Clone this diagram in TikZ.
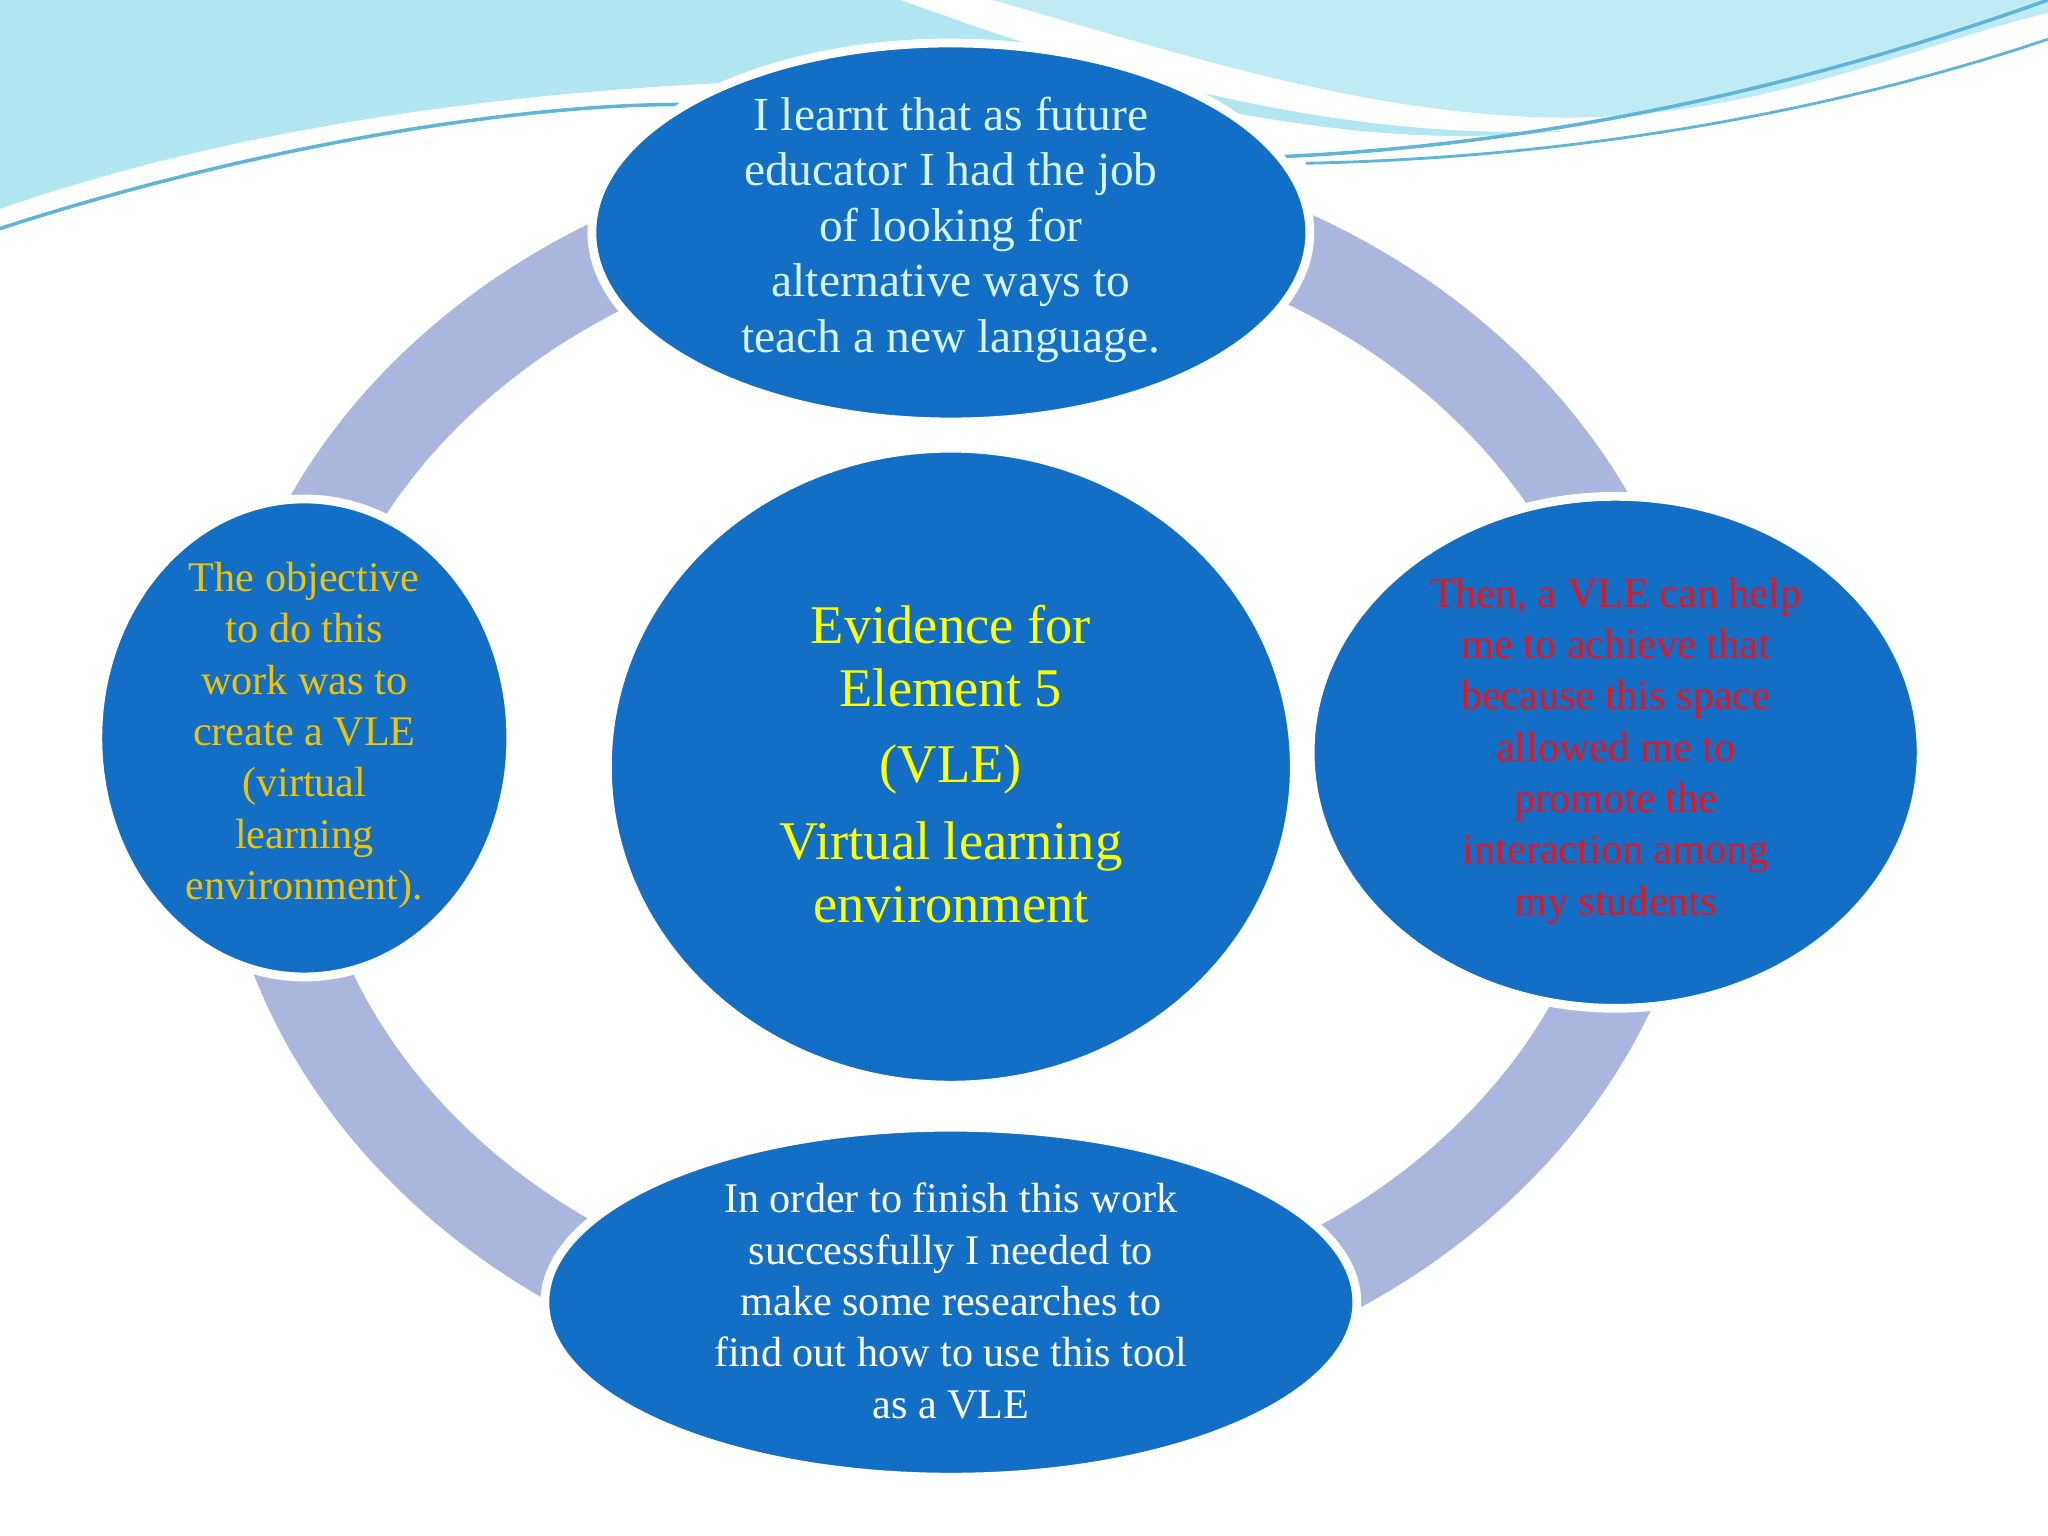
\documentclass[tikz,border=0pt]{standalone}
\usepackage{fontspec}
\setmainfont{Liberation Serif}
\definecolor{blob}{HTML}{136FC6}
\definecolor{ring}{HTML}{AAB6DE}
\definecolor{wave}{HTML}{7FD6E8}
\definecolor{wavedark}{HTML}{5FB4D8}
\definecolor{ytext}{HTML}{FFFF00}
\definecolor{otext}{HTML}{F2C200}
\definecolor{rtext}{HTML}{E8141E}
\tikzset{
  blobst/.style={ellipse, fill=blob, draw=white, line width=2.5pt, inner sep=0pt},
  txt/.style={align=center, font=\fontsize{12}{14.6}\selectfont},
}
\usetikzlibrary{shapes.geometric}
\begin{document}
\begin{tikzpicture}[x=0.013061cm,y=-0.013061cm]
\useasboundingbox (0,0) rectangle (1568,1176);
\fill[white] (0,0) rectangle (1568,1176);
% top waves
\fill[wave!60] (0,0) -- (0,160) .. controls (200,90) and (450,60) .. (700,60) .. controls (900,60) and (1000,120) .. (1200,100) .. controls (1350,85) and (1500,40) .. (1568,20) -- (1568,0) -- cycle;
\fill[white] (690,0) .. controls (800,40) and (1000,110) .. (1200,100) .. controls (1350,90) and (1480,50) .. (1568,30) -- (1568,0) -- cycle;
\fill[wave!50] (760,0) .. controls (900,40) and (1050,90) .. (1200,90) .. controls (1350,90) and (1480,30) .. (1568,10) -- (1568,0) -- cycle;
\draw[wavedark, line width=1pt] (0,175) .. controls (200,110) and (400,80) .. (520,80);
\draw[wavedark, line width=1pt] (980,120) .. controls (1200,110) and (1400,60) .. (1568,0);
\draw[wavedark, line width=0.8pt] (1000,125) .. controls (1250,120) and (1450,70) .. (1568,30);
% ring
\draw[ring, line width=26pt] (735,592) ellipse [x radius=535, y radius=450];
% nodes
\node[blobst, minimum width=7.18cm, minimum height=3.79cm] (top) at (728,178) {};
\node[txt, text=white!85!cyan, font=\fontsize{13.5}{15.8}\selectfont] at (728,176) {I learnt that as future\\educator I had the job\\of looking for\\alternative ways to\\teach a new language.};
\node[blobst, minimum width=6.87cm, minimum height=6.37cm] (mid) at (728,587) {};
\node[align=center, text=ytext, font=\fontsize{15.5}{17.8}\selectfont] at (728,585) {Evidence for\\Element 5\\[4pt](VLE)\\[4pt]Virtual learning\\environment};
\node[blobst, minimum width=4.13cm, minimum height=4.78cm] (left) at (233,565) {};
\node[txt, text=otext] at (233,563) {The objective\\to do this\\work was to\\create a VLE\\(virtual\\learning\\environment).};
\node[blobst, minimum width=6.11cm, minimum height=5.12cm] (right) at (1237,576) {};
\node[txt, text=rtext] at (1237,575) {Then, a VLE can help\\me to achieve that\\because this space\\allowed me to\\promote the\\interaction among\\my students};
\node[blobst, minimum width=8.12cm, minimum height=3.50cm] (bot) at (728,997) {};
\node[txt, text=white] at (728,996) {In order to finish this work\\successfully I needed to\\make some researches to\\find out how to use this tool\\as a VLE};
\end{tikzpicture}
\end{document}
